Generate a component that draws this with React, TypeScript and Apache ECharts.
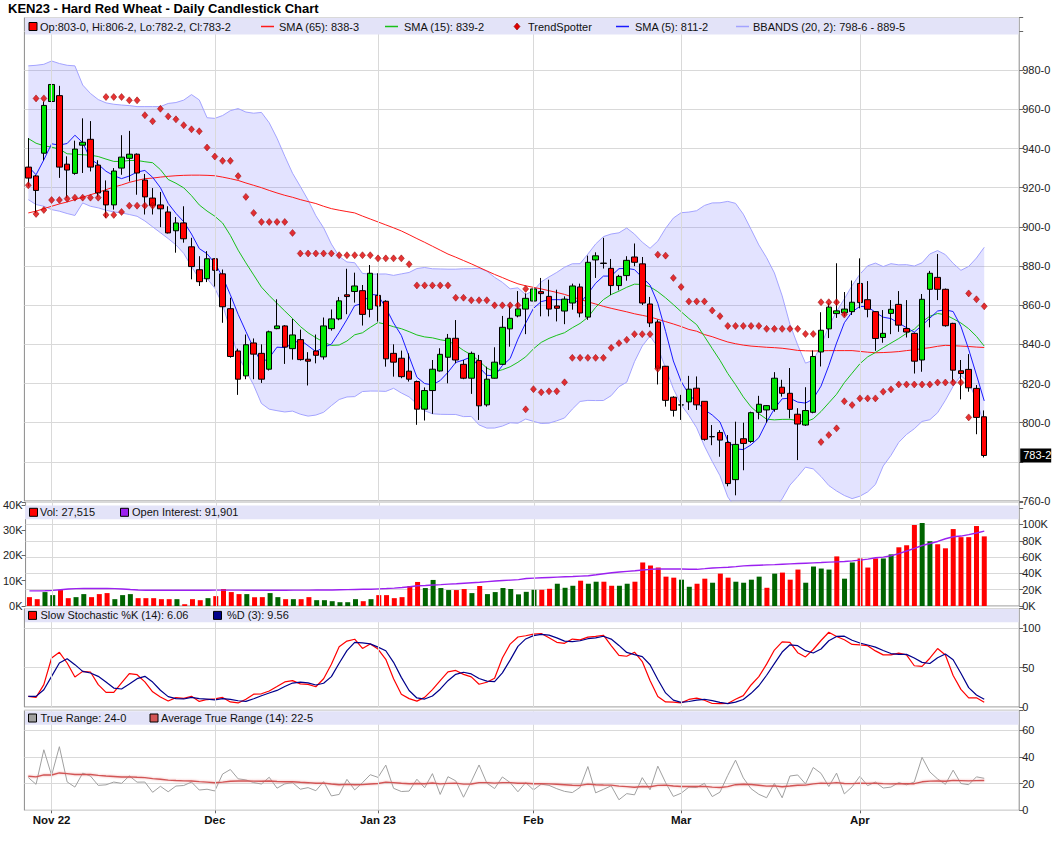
import React, { useEffect, useRef } from "react";
import * as echarts from "echarts";

const FONT = "'Liberation Sans', Arial, Helvetica, sans-serif";
const nul = (k: number): null[] => Array(k).fill(null);

const TITLE = "KEN23 - Hard Red Wheat - Daily Candlestick Chart";
const LEG_OHLC = "Op:803-0, Hi:806-2, Lo:782-2, Cl:783-2";
const LEG_SMA65 = "SMA (65): 838-3";
const LEG_SMA15 = "SMA (15): 839-2";
const LEG_TS = "TrendSpotter";
const LEG_SMA5 = "SMA (5): 811-2";
const LEG_BB = "BBANDS (20, 2): 798-6 - 889-5";
const LEG_VOL = "Vol: 27,515";
const LEG_OI = "Open Interest: 91,901";
const LEG_K = "Slow Stochastic %K (14): 6.06";
const LEG_D = "%D (3): 9.56";
const LEG_TR = "True Range: 24-0";
const LEG_ATR = "Average True Range (14): 22-5";
const LAST_PRICE = "783-2";

// price-axis tick labels hidden behind the last-price box
const hiddenPriceTicks = [780];

const dates: string[] = [
  "2022-10-27", "2022-10-28", "2022-10-31",
  "2022-11-01", "2022-11-02", "2022-11-03", "2022-11-04", "2022-11-07", "2022-11-08", "2022-11-09", "2022-11-10", "2022-11-11",
  "2022-11-14", "2022-11-15", "2022-11-16", "2022-11-17", "2022-11-18", "2022-11-21", "2022-11-22", "2022-11-23", "2022-11-25",
  "2022-11-28", "2022-11-29", "2022-11-30",
  "2022-12-01", "2022-12-02", "2022-12-05", "2022-12-06", "2022-12-07", "2022-12-08", "2022-12-09", "2022-12-12", "2022-12-13",
  "2022-12-14", "2022-12-15", "2022-12-16", "2022-12-19", "2022-12-20", "2022-12-21", "2022-12-22", "2022-12-23", "2022-12-27",
  "2022-12-28", "2022-12-29", "2022-12-30",
  "2023-01-03", "2023-01-04", "2023-01-05", "2023-01-06", "2023-01-09", "2023-01-10", "2023-01-11", "2023-01-12", "2023-01-13",
  "2023-01-17", "2023-01-18", "2023-01-19", "2023-01-20", "2023-01-23", "2023-01-24", "2023-01-25", "2023-01-26", "2023-01-27",
  "2023-01-30", "2023-01-31",
  "2023-02-01", "2023-02-02", "2023-02-03", "2023-02-06", "2023-02-07", "2023-02-08", "2023-02-09", "2023-02-10", "2023-02-13",
  "2023-02-14", "2023-02-15", "2023-02-16", "2023-02-17", "2023-02-21", "2023-02-22", "2023-02-23", "2023-02-24", "2023-02-27",
  "2023-02-28",
  "2023-03-01", "2023-03-02", "2023-03-03", "2023-03-06", "2023-03-07", "2023-03-08", "2023-03-09", "2023-03-10", "2023-03-13",
  "2023-03-14", "2023-03-15", "2023-03-16", "2023-03-17", "2023-03-20", "2023-03-21", "2023-03-22", "2023-03-23", "2023-03-24",
  "2023-03-27", "2023-03-28", "2023-03-29", "2023-03-30", "2023-03-31",
  "2023-04-03", "2023-04-04", "2023-04-05", "2023-04-06", "2023-04-10", "2023-04-11", "2023-04-12", "2023-04-13", "2023-04-14",
  "2023-04-17", "2023-04-18", "2023-04-19", "2023-04-20", "2023-04-21", "2023-04-24", "2023-04-25", "2023-04-26",
];

const monthTicks: Record<string, string> = {
  "2022-11-01": "Nov 22",
  "2022-12-01": "Dec",
  "2023-01-03": "Jan 23",
  "2023-02-01": "Feb",
  "2023-03-01": "Mar",
  "2023-04-03": "Apr",
};

const opens: number[] = [
  930.5, 926, 937.6, 964, 967, 932, 927.3, 941.7, 944.7, 931.5,
  918.3, 911.2, 930, 935, 937.1, 923.9, 914.7, 911.2, 907.6, 898,
  902, 889.8, 878.1, 873.5, 883.7, 876, 858.2, 836.6, 823.9, 840.7,
  835.4, 827.3, 848, 849.4, 837.8, 842.4, 832.4, 836.6, 833.6, 848,
  853, 865.3, 867, 867.4, 857.9, 865, 862, 835.4, 832.9, 826.3,
  821, 806.9, 816.4, 826.4, 833.4, 843.1, 829.8, 822.7, 831.7, 809.1,
  822.7, 829.8, 847.9, 854.5, 858, 862.1, 866.9, 864.5, 859.6, 857,
  861.1, 869.3, 853.9, 883.1, 881.5, 878.8, 870, 875.1, 884.6, 881.1,
  860.6, 851.4, 828.8, 813, 809, 810.6, 817.6, 810.9, 792.8, 795,
  789.9, 770.9, 791.8, 790.4, 805.3, 806.5, 806.8, 818.1, 815, 804.3,
  798.8, 805.3, 836.1, 847.9, 855.7, 856.1, 856.7, 871.1, 862.8, 856.7,
  843.5, 855.8, 860.4, 848.1, 845.6, 832, 868.1, 874.2, 868.1, 850.7,
  826.5, 827.2, 817.5, 803,
];

const closes: number[] = [
  924.9, 918.6, 962, 972.7, 930.5, 929, 939.7, 943.2, 930.5, 917.3,
  911.2, 928.5, 935.6, 937.1, 927.5, 915.3, 911, 909.2, 896.9, 902,
  893.9, 879.7, 872, 883.7, 877.8, 859.2, 833.8, 822.2, 839.8, 835,
  822.2, 846.4, 849.4, 838.6, 844.8, 832.2, 831.4, 834.4, 849.4, 853,
  862.2, 864.4, 869.8, 855.3, 876.3, 859.6, 832.6, 830.9, 823.5, 822.2,
  806.9, 816.4, 827.3, 834.9, 843.1, 832, 822.7, 835.4, 808.6, 822.2,
  830.9, 848.7, 853.3, 858.1, 863.5, 868.3, 865.9, 858, 858.4, 863.1,
  869.8, 856, 881.9, 885.2, 881.3, 870, 874.7, 882.9, 881.9, 861.1,
  850.9, 827.8, 811.4, 806.3, 809.1, 817.1, 809.1, 791.5, 792.9, 791.1,
  768.9, 788.9, 789.4, 805.1, 809.4, 808.7, 822.7, 815, 806.8, 799.3,
  806.2, 833.8, 847.2, 859, 857.1, 858, 861.5, 861.3, 857.9, 843,
  845.6, 857.9, 849.8, 846.3, 831.4, 863, 876.3, 868.1, 849.5, 826.8,
  825.1, 817.8, 802.7, 783.25,
];

const lows: number[] = [
  920.7, 907, 934, 947.8, 925, 914.7, 926.6, 927.5, 928.3, 915.3,
  904.6, 908.8, 926.6, 923.2, 916.4, 906.3, 906.3, 899.8, 896.6, 886.8,
  891.9, 873.2, 869.8, 871.8, 869.5, 851, 833.2, 814.2, 822.2, 822.2,
  820.3, 826.6, 847.7, 830, 832.2, 831.7, 819, 830.3, 832.2, 847,
  852.3, 855.4, 861.3, 849.6, 853.8, 851.6, 828.6, 823.5, 822.7, 821,
  798.9, 801.1, 804.5, 826.1, 820.1, 830.3, 822.2, 814.7, 801.4, 808.2,
  822.5, 829.5, 838.8, 853.8, 845.2, 856, 854.3, 854.3, 851.7, 850.3,
  857.7, 853.8, 852.5, 873.9, 878.7, 865.2, 867.6, 872.5, 879.9, 860.1,
  848.8, 819.5, 808.2, 803.1, 801.4, 806.5, 806.5, 790.8, 788.5, 782.6,
  767.5, 762.9, 775.7, 789.7, 801.7, 800, 805.6, 813.3, 802.2, 780.9,
  798.3, 804.8, 828.7, 843.2, 853.5, 854.4, 855, 858.4, 853.8, 836.7,
  840.8, 845.2, 846.4, 843.5, 825.1, 826, 848.7, 862.6, 849, 820.9,
  811.9, 815.8, 794.1, 782.25,
];

const highs: number[] = [
  945.3, 926.5, 964, 974, 972, 936, 944, 955.4, 954, 934,
  923.7, 930, 946.8, 949, 937.5, 927, 919.8, 917.8, 910.5, 905,
  910.5, 894.4, 885, 887.6, 884, 878.2, 863.8, 837.8, 845, 843,
  840, 847, 863, 849.8, 853, 847.5, 836, 845, 853.7, 857.8,
  864.2, 878.6, 876.6, 870.3, 880.5, 876.3, 862.5, 840, 836.8, 835.4,
  821.5, 818, 832, 838, 845.3, 852.4, 832, 836.3, 834.6, 828.6,
  838.5, 854.5, 859.6, 867.2, 866, 871.3, 873.9, 873, 867.9, 864.5,
  871, 871, 885.3, 887, 894.4, 883.6, 875.5, 885, 891.5, 884.6,
  864.2, 852.6, 829, 813.5, 814.2, 823.9, 823.6, 811, 798.8, 796.2,
  793.7, 800.5, 800, 805.6, 813.7, 809, 825.8, 821.9, 827.9, 807.4,
  818.1, 836.9, 856.4, 861, 881.4, 866.7, 872.6, 883.9, 872.3, 857,
  857.5, 862.6, 867.2, 862.6, 846, 865.7, 877.5, 886.1, 868.5, 851,
  832, 835, 819.2, 806.25,
];

// volume, thousands of contracts
const volumes: number[] = [
  3.5, 2.7, 5.5, 4.3, 6.3, 3.1, 3.5, 4.7, 3.5, 4.7,
  5.1, 2.7, 4.3, 4.7, 3.1, 3.1, 3.1, 2.7, 2.7, 2.7,
  0.7, 2.7, 2.3, 3.1, 3.9, 6.7, 5.5, 4.7, 4.7, 3.5,
  3.5, 5.1, 3.5, 2.7, 2.7, 2.7, 3.5, 2.3, 2.3, 1.9,
  1.5, 1.5, 2.7, 1.9, 2.7, 4.3, 4.3, 3.1, 3.5, 7.9,
  9.5, 7.1, 10.3, 7.1, 6.3, 6.3, 6.7, 5.1, 7.9, 4.7,
  5.5, 7.1, 6.7, 4.6, 5.6, 6.4, 6.4, 6.8, 8.8, 7.2,
  8.0, 10.0, 8.8, 9.6, 9.6, 8.0, 8.0, 8.8, 9.6, 17.2,
  16.0, 15.2, 11.6, 11.2, 10.4, 7.6, 8.8, 10.8, 9.2, 12.8,
  11.2, 9.6, 9.2, 10.4, 11.6, 7.2, 12.8, 13.2, 10.4, 14.4,
  9.2, 15.6, 14.8, 14.4, 19.6, 10.8, 17.2, 18.8, 15.2, 18.8,
  18.8, 20.4, 23.2, 24.0, 32.0, 32.8, 25.6, 24.4, 22.8, 30.4,
  27.2, 27.2, 31.6, 27.515,
];

// open interest, thousands of contracts
const openInterest: number[] = [
  18.5, 18.5, 18.7, 19.2, 20, 20.8, 21.3, 21.4, 21.4, 21.4,
  21.4, 21.3, 20.8, 20.2, 19.7, 19.4, 19.3, 19.3, 19.3, 19.3,
  19.3, 19.3, 19.4, 19.4, 19.5, 19.5, 19.5, 19.5, 19.4, 19.4,
  19.4, 19.4, 19.4, 19.4, 19.5, 19.5, 19.5, 19.6, 19.6, 19.7,
  19.9, 20.1, 20.3, 20.5, 20.6, 21, 21.4, 21.9, 22.7, 23.6,
  24.8, 25.2, 25.7, 26.2, 26.8, 27.3, 27.9, 28.5, 29.1, 29.9,
  30.6, 31.2, 31.8, 32.4, 33.7, 34.2, 34.6, 35, 35.4, 35.8,
  36.2, 36.7, 37.1, 38.3, 39.6, 40.8, 41.7, 42.5, 43.3, 44.2,
  45, 45.4, 45.4, 45.4, 45.4, 45, 45, 45.8, 46.7, 47.1,
  47.5, 48.3, 49.2, 49.6, 50, 50.4, 50.8, 51.3, 51.7, 52.1,
  52.5, 52.9, 53.3, 53.8, 54.2, 54.6, 55.4, 56.3, 57.5, 59.2,
  60, 61.7, 64.2, 67.5, 70.8, 74.2, 76.7, 79.2, 82.5, 85,
  85.8, 87.5, 89.6, 91.901,
];

const sma65: number[] = [
  907.1, 908, 909.3, 910.5, 911.7, 912.7, 913.9, 915.1, 916.4, 917.6,
  919, 920.3, 921.4, 922.7, 923.7, 924.6, 924.9, 925.4, 925.8, 926.1,
  926.3, 926.4, 926.4, 926.3, 926.1, 925.4, 924.6, 923.7, 922.4, 921.2,
  920, 918.6, 917.3, 916.1, 915.1, 913.9, 912.9, 911.9, 910.5, 909.3,
  908.5, 907.8, 907.1, 905.5, 904, 902.5, 901, 899.5, 897.9, 896,
  894, 892.1, 890.1, 888.1, 886.1, 884.5, 882.8, 881.1, 879.3, 877.5,
  875.7, 874.1, 872.4, 870.9, 869.9, 869.1, 868.3, 867.4, 866.5, 865.5,
  864.2, 863, 861.7, 860.6, 859.4, 858.4, 857.5, 856.6, 855.6, 854.8,
  854, 852.8, 851.6, 850.4, 849.1, 847.6, 846.7, 845, 843.9, 842.5,
  841.2, 840.3, 839.6, 839.1, 838.8, 838.5, 838.3, 838, 837.5, 836.9,
  836.7, 836.6, 836.7, 836.8, 836.8, 836.8, 836.8, 836.4, 836, 835.7,
  835.8, 836, 836.3, 836.8, 837.2, 837.8, 838.3, 839, 839.5, 839.3,
  839.1, 838.9, 838.6, 838.4,
];

const tsUpper: (number | null)[] = [
  null, 965.6, 965.6, ...nul(7),
  966.3, 966.3, 966.3, 964.6, 964.6, 957, 953.9, 960.3, 956.4, 954.9,
  951.9, 949.8, 948.8, 940.5, 935.9, 933.7, 933.7, 925.9, 915.3, 907.1,
  902.5, 902.5, 902.5, 902.5, 896.9, 886.4, 886.4, 886.4, 886.4, 886.4,
  885.5, 885.5, 885.5, 885.5, 885.5, 883.9, 883.9, 883.9, 883.9, 880.9,
  870.1, 870.1, 870.1, 870.1, 870.1, 863.8, 863.8, 862.5, 862.5, 862.5,
  859.9, 859.9, 859.9, 859.9, 868.3, ...nul(5),
  ...nul(10),
  null, 885.8, 885.3, 873.9, 869.3, 861.9, 861.9, 861.9, 857.3, 854.4,
  849.4, 849.4, 849.4, 849.4, 849.4, 847.9, 847.9, 847.9, 847.9, 847.9,
  845.3, 845.3, 861.5, 861.5, 861.5, 855.2, ...nul(4),
  ...nul(10),
  null, 866, 863, 859.4,
];

const tsLower: (number | null)[] = [
  921.2, 906.6, 908.6, 913.7, 913.7, 914.4, 914.9, 914.9, 914.9, 914.9,
  906.1, 906.1, 907.6, 910.8, 910.8, 910.8, 910.8, null, null, null,
  ...nul(40),
  null, null, null, null, 806.8, 817.1, 815.5, 816, 816, 820.6,
  833.1, 833.1, 833.1, 833.1, 833.1, 838.2, 840.6, 842.3, 845.2, 845.2,
  845.2, 827.5, ...nul(8),
  ...nul(10),
  null, null, 790.1, 793.7, 797.1, 810.9, 809, 812.4, 812.4, 812.4,
  815.8, 817, 819.5, 819.5, 819.5, 819.5, 819.5, 820.5, 820.5, 820.5,
  820.5, 802.7, null, null,
];

const sma5Start = [930.8, 926.6, 934.2, 942.4];
const sma15Start = [945.1, 942.7, 941.4, 940.7, 939.7, 937.3, 937.1, 936.8, 936.6, 935.9, 934.6, 933.4, 933.4, 933.9];
const bbUpperStart = [982.2, 982.5, 983, 984.7, 983.4, 982.5, 982.2, 972.4, 968.1, 965, 963.3, 962.6, 962.2, 961.9, 961.4, 961.4, 961.4, 961.4, 963];
const bbLowerStart = [913.9, 911.4, 910.5, 908.8, 908, 906.8, 905.8, 912.2, 910.5, 909.7, 908.5, 907.6, 907.1, 906.3, 905.4, 903, 900, 897, 894];
const slowKStart = [13.5, 12.2, 28.3, 62, 69.2, 55.7, 38, 45.1, 44.3, 28.3, 18.6, 18.6, 30.4, 42.2, 40.9];
const slowDStart = [13.5, 13.5, 21.9, 38.8, 55.7, 61.2, 53.6, 45.1, 43, 38.8, 31.6, 24, 22.8, 29.1, 35.9, 38.8, 31.6];
const atrStart = 25.5;

const GL = 24.4;
const GW = 994.8;

function buildGraphics(lastPriceY: number | null): any[] {
  const legendText = (text: string, x: number, y: number) => ({
    type: "text",
    x,
    y,
    z: 101,
    silent: true,
    style: { text, fill: "#111", fontSize: 11, fontFamily: FONT, align: "left", verticalAlign: "middle" },
  });
  const box = (x: number, y: number, fill: string) => ({
    type: "rect",
    z: 101,
    silent: true,
    shape: { x, y: y - 4, width: 8, height: 8 },
    style: { fill, stroke: "#000", lineWidth: 1 },
  });
  const dashMark = (x: number, y: number, color: string) => ({
    type: "line",
    z: 101,
    silent: true,
    shape: { x1: x, y1: y, x2: x + 13, y2: y },
    style: { stroke: color, lineWidth: 1.5 },
  });
  const band = (y: number, h: number) => ({
    type: "rect",
    z: 100,
    silent: true,
    shape: { x: 25, y, width: 993.6, height: h },
    style: { fill: "#e3e3f8" },
  });

  const yMain = 26.5;
  const yVol = 512.3;
  const yStoch = 615.4;
  const yTR = 718;

  const g: any[] = [
    {
      type: "text",
      x: 8,
      y: 2,
      z: 101,
      silent: true,
      style: { text: TITLE, fill: "#000", fontSize: 13, fontWeight: "bold", fontFamily: FONT, align: "left", verticalAlign: "top" },
    },
    band(18, 16.5),
    band(505.5, 13.8),
    band(609, 13.3),
    band(711.3, 13.5),
    box(29, yMain, "#ff0000"),
    legendText(LEG_OHLC, 40, yMain),
    dashMark(261, yMain, "#ff1a1a"),
    legendText(LEG_SMA65, 279, yMain),
    dashMark(385, yMain, "#19c019"),
    legendText(LEG_SMA15, 404, yMain),
    {
      type: "polygon",
      z: 101,
      silent: true,
      shape: { points: [[517, yMain - 3.5], [520, yMain], [517, yMain + 3.5], [514, yMain]] },
      style: { fill: "#e00000", stroke: "#8b0000", lineWidth: 0.6 },
    },
    legendText(LEG_TS, 528, yMain),
    dashMark(616, yMain, "#1a1aff"),
    legendText(LEG_SMA5, 635, yMain),
    dashMark(736, yMain, "#a3a3ff"),
    legendText(LEG_BB, 753, yMain),
    box(29.5, yVol, "#ff0000"),
    legendText(LEG_VOL, 40, yVol),
    box(120.5, yVol, "#9b20f0"),
    legendText(LEG_OI, 132, yVol),
    box(28.5, yStoch, "#ff0000"),
    legendText(LEG_K, 40.5, yStoch),
    box(213.5, yStoch, "#00008b"),
    legendText(LEG_D, 227, yStoch),
    box(28.5, yTR, "#a0a0a0"),
    legendText(LEG_TR, 40.5, yTR),
    box(150, yTR, "#d25555"),
    legendText(LEG_ATR, 161, yTR),
  ];
  if (lastPriceY != null && isFinite(lastPriceY)) {
    g.push({
      type: "rect",
      z: 102,
      silent: true,
      shape: { x: GL + GW + 1, y: lastPriceY - 7, width: 31, height: 14 },
      style: { fill: "#000" },
    });
    g.push({
      type: "text",
      z: 103,
      silent: true,
      x: GL + GW + 4,
      y: lastPriceY,
      style: { text: LAST_PRICE, fill: "#fff", fontSize: 11, fontFamily: FONT, align: "left", verticalAlign: "middle" },
    });
  }
  return g;
}

function buildOption(): any {
  const PAD = 4;
  const cats = [...dates, ...Array.from({ length: PAD }, (_, i) => `pad-${i}`)];
  const avg = (a: number[]) => a.reduce((s, v) => s + v, 0) / a.length;
  const dash = (a: (number | null)[]) => a.map((v) => (v == null ? "-" : v));

  const sma5 = closes.map((_, i) => (i < 4 ? sma5Start[i] : avg(closes.slice(i - 4, i + 1))));
  const sma15 = closes.map((_, i) => (i < 14 ? sma15Start[i] : avg(closes.slice(i - 14, i + 1))));
  const bbU: number[] = [];
  const bbL: number[] = [];
  closes.forEach((_, i) => {
    if (i < 19) {
      bbU.push(bbUpperStart[i]);
      bbL.push(bbLowerStart[i]);
      return;
    }
    const w = closes.slice(i - 19, i + 1);
    const m = avg(w);
    const sd = Math.sqrt(avg(w.map((v) => (v - m) * (v - m))));
    bbU.push(m + 2 * sd);
    bbL.push(m - 2 * sd);
  });
  const bbDiff = bbU.map((u, i) => u - bbL[i]);

  const fastK = closes.map((c, i) => {
    if (i < 13) return 0;
    const hh = Math.max(...highs.slice(i - 13, i + 1));
    const ll = Math.min(...lows.slice(i - 13, i + 1));
    return ((c - ll) / (hh - ll)) * 100;
  });
  const slowK = closes.map((_, i) => (i < 15 ? slowKStart[i] : avg(fastK.slice(i - 2, i + 1))));
  const slowD = slowK.map((_, i) => (i < 17 ? slowDStart[i] : avg(slowK.slice(i - 2, i + 1))));

  const tr = closes.map((_, i) =>
    i === 0
      ? highs[0] - lows[0]
      : Math.max(highs[i] - lows[i], Math.abs(highs[i] - closes[i - 1]), Math.abs(lows[i] - closes[i - 1]))
  );
  const atr: number[] = [];
  tr.forEach((t, i) => atr.push(i === 0 ? atrStart : (atr[i - 1] * 13 + t) / 14));

  const ohlc = dates.map((_, i) => [opens[i], closes[i], lows[i], highs[i]]);
  const volData = volumes.map((v, i) => {
    const up = i === 0 ? closes[0] >= opens[0] : closes[i] >= closes[i - 1];
    return { value: v, itemStyle: { color: up ? "#006400" : "#ff0000" } };
  });

  const monthStarts = Object.keys(monthTicks);
  const isMonth = (_idx: number, val: string) => val in monthTicks;

  const gridBase = { left: GL, width: GW, show: true, borderColor: "#8a8a8a", borderWidth: 1, backgroundColor: "transparent" };
  const gridColor = "#d9d9d9";

  const vLines = (xi: number, yi: number) => ({
    type: "line",
    xAxisIndex: xi,
    yAxisIndex: yi,
    data: cats.map(() => "-"),
    symbol: "none",
    silent: true,
    z: 1,
    lineStyle: { opacity: 0 },
    markLine: {
      silent: true,
      symbol: ["none", "none"],
      label: { show: false },
      lineStyle: { color: gridColor, width: 1, type: "solid" },
      data: monthStarts.map((d) => ({ xAxis: d })),
    },
  });

  const labelBase = { color: "#222", fontSize: 11, fontFamily: FONT, margin: 3 };
  const tickBase = { show: true, length: 4, lineStyle: { color: "#666" } };
  const yBase = (gi: number, pos: string, min: number, max: number, interval: number, fmt: (v: number) => string, split: boolean) => ({
    type: "value",
    gridIndex: gi,
    position: pos,
    min,
    max,
    interval,
    axisLine: { show: false },
    axisTick: tickBase,
    axisLabel: { ...labelBase, formatter: fmt },
    splitLine: { show: split, lineStyle: { color: gridColor, width: 1 } },
  });

  const xHidden = (gi: number) => ({ type: "category", gridIndex: gi, data: cats, boundaryGap: true, show: false });

  return {
    animation: false,
    backgroundColor: "#ffffff",
    textStyle: { fontFamily: FONT },
    grid: [
      { ...gridBase, top: 17.5, height: 483.5 },
      { ...gridBase, top: 502, height: 104 },
      { ...gridBase, top: 608.5, height: 98.5 },
      { ...gridBase, top: 710.3, height: 100 },
    ],
    xAxis: [
      xHidden(0),
      xHidden(1),
      xHidden(2),
      {
        type: "category",
        gridIndex: 3,
        data: cats,
        boundaryGap: true,
        axisLine: { show: false },
        axisTick: { show: true, alignWithLabel: true, interval: isMonth, length: 3, lineStyle: { color: "#666" } },
        axisLabel: {
          interval: isMonth,
          formatter: (v: string) => monthTicks[v] ?? "",
          color: "#111",
          fontSize: 11.5,
          fontWeight: "bold",
          fontFamily: FONT,
          margin: 4,
        },
        splitLine: { show: false },
      },
    ],
    yAxis: [
      yBase(
        0,
        "right",
        760,
        1006.9,
        20,
        (v) => (v <= 980 && v % 20 === 0 && !hiddenPriceTicks.includes(v) ? `${v}-0` : ""),
        true
      ),
      yBase(1, "left", 0, 41.1, 10, (v) => (v <= 40 && v % 10 === 0 ? `${v}K` : ""), false),
      yBase(1, "right", 0, 127.6, 20, (v) => (v <= 100 && v % 20 === 0 ? `${v}K` : ""), true),
      yBase(2, "right", 0, 124.7, 50, (v) => (v <= 100 && v % 50 === 0 ? `${v}` : ""), true),
      yBase(3, "right", 0, 75, 20, (v) => (v <= 60 && v % 20 === 0 ? `${v}` : ""), true),
    ],
    series: [
      vLines(0, 0),
      {
        name: "BB lower",
        type: "line",
        xAxisIndex: 0,
        yAxisIndex: 0,
        data: bbL,
        stack: "bb",
        symbol: "none",
        silent: true,
        z: 2,
        lineStyle: { color: "#a3a3ff", width: 1 },
      },
      {
        name: "BB upper",
        type: "line",
        xAxisIndex: 0,
        yAxisIndex: 0,
        data: bbDiff,
        stack: "bb",
        symbol: "none",
        silent: true,
        z: 2,
        lineStyle: { color: "#a3a3ff", width: 1 },
        areaStyle: { color: "rgba(105,105,255,0.27)" },
      },
      {
        name: "SMA 65",
        type: "line",
        xAxisIndex: 0,
        yAxisIndex: 0,
        data: sma65,
        symbol: "none",
        silent: true,
        z: 3,
        lineStyle: { color: "#ff1a1a", width: 1 },
      },
      {
        name: "SMA 15",
        type: "line",
        xAxisIndex: 0,
        yAxisIndex: 0,
        data: sma15,
        symbol: "none",
        silent: true,
        z: 3,
        lineStyle: { color: "#19c019", width: 1 },
      },
      {
        name: "SMA 5",
        type: "line",
        xAxisIndex: 0,
        yAxisIndex: 0,
        data: sma5,
        symbol: "none",
        silent: true,
        z: 3,
        lineStyle: { color: "#1a1aff", width: 1 },
      },
      {
        name: "Price",
        type: "candlestick",
        xAxisIndex: 0,
        yAxisIndex: 0,
        data: ohlc,
        barWidth: 6,
        silent: true,
        z: 4,
        itemStyle: {
          color: "#00e600",
          color0: "#ff0000",
          borderColor: "#000",
          borderColor0: "#000",
          borderColorDoji: "#000",
          borderWidth: 1,
        },
      },
      {
        name: "TrendSpotter up",
        type: "scatter",
        xAxisIndex: 0,
        yAxisIndex: 0,
        data: dash(tsUpper),
        symbol: "diamond",
        symbolSize: [6, 7],
        silent: true,
        z: 5,
        itemStyle: { color: "#e00000", borderColor: "#8b0000", borderWidth: 0.6 },
      },
      {
        name: "TrendSpotter down",
        type: "scatter",
        xAxisIndex: 0,
        yAxisIndex: 0,
        data: dash(tsLower),
        symbol: "diamond",
        symbolSize: [6, 7],
        silent: true,
        z: 5,
        itemStyle: { color: "#e00000", borderColor: "#8b0000", borderWidth: 0.6 },
      },
      vLines(1, 2),
      {
        name: "Volume",
        type: "bar",
        xAxisIndex: 1,
        yAxisIndex: 1,
        data: volData,
        barWidth: 5,
        silent: true,
        z: 2,
      },
      {
        name: "Open Interest",
        type: "line",
        xAxisIndex: 1,
        yAxisIndex: 2,
        data: openInterest,
        symbol: "none",
        silent: true,
        z: 3,
        lineStyle: { color: "#9b20f0", width: 1.4 },
      },
      vLines(2, 3),
      {
        name: "%K",
        type: "line",
        xAxisIndex: 2,
        yAxisIndex: 3,
        data: slowK,
        symbol: "none",
        silent: true,
        z: 3,
        lineStyle: { color: "#ff0000", width: 1.2 },
      },
      {
        name: "%D",
        type: "line",
        xAxisIndex: 2,
        yAxisIndex: 3,
        data: slowD,
        symbol: "none",
        silent: true,
        z: 3,
        lineStyle: { color: "#00008b", width: 1.2 },
      },
      vLines(3, 4),
      {
        name: "True Range",
        type: "line",
        xAxisIndex: 3,
        yAxisIndex: 4,
        data: tr,
        symbol: "none",
        silent: true,
        z: 3,
        lineStyle: { color: "#a0a0a0", width: 1 },
      },
      {
        name: "ATR",
        type: "line",
        xAxisIndex: 3,
        yAxisIndex: 4,
        data: atr,
        symbol: "none",
        silent: true,
        z: 4,
        lineStyle: { color: "#d25555", width: 1.4, shadowColor: "rgba(235,140,140,0.7)", shadowBlur: 2 },
      },
    ],
    graphic: buildGraphics(null),
  };
}

export default function App() {
  const ref = useRef<HTMLDivElement>(null);
  useEffect(() => {
    if (!ref.current) return;
    const chart = echarts.init(ref.current, null, { renderer: "svg" });
    chart.setOption(buildOption());
    const py = chart.convertToPixel({ yAxisIndex: 0 }, closes[closes.length - 1]) as number;
    chart.setOption({ graphic: buildGraphics(py) });
    return () => {
      chart.dispose();
    };
  }, []);
  return (
    <div
      ref={ref}
      style={{ position: "absolute", left: 0, top: 0, width: 1060, height: 851, background: "#ffffff" }}
    />
  );
}
